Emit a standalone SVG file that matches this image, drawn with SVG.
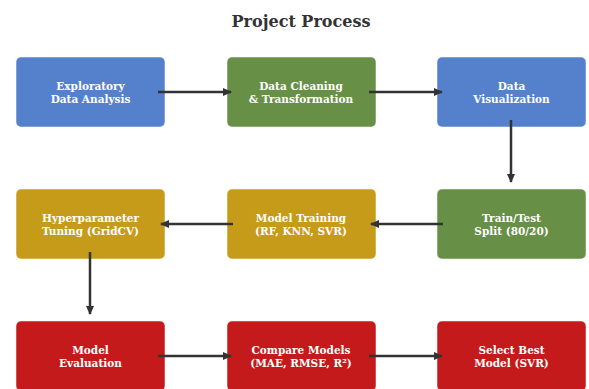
<svg xmlns="http://www.w3.org/2000/svg" width="589" height="389" viewBox="0 0 589 389">
<style>
.box{stroke:#ffffff;stroke-opacity:0.5;stroke-width:1}
.b{fill:#5580CB}.g{fill:#678F46}.y{fill:#C69B1A}.r{fill:#C41A1B}
.t{font-family:"DejaVu Serif",serif;font-weight:bold;font-size:10.5px;fill:#ffffff;text-anchor:middle}
.title{font-family:"DejaVu Serif",serif;font-weight:bold;font-size:16px;fill:#333333;text-anchor:middle}
.c{stroke:#333333;stroke-width:2.5;fill:none;marker-end:url(#ah)}
</style>
<defs>
<marker id="ah" markerWidth="10" markerHeight="10" refX="8" refY="5" orient="auto" markerUnits="userSpaceOnUse">
<path d="M0,1 L9,5 L0,9 Z" fill="#333333"/>
</marker>
</defs>
<rect width="589" height="389" fill="#ffffff"/>
<text class="title" x="301" y="27">Project Process</text>
<g id="n1"><rect class="box b" x="16" y="57" width="149" height="70" rx="5"/><text class="t" x="90.5" y="90">Exploratory</text><text class="t" x="90.5" y="103">Data Analysis</text></g>
<g id="n2"><rect class="box g" x="227" y="57" width="149" height="70" rx="5"/><text class="t" x="301" y="90">Data Cleaning</text><text class="t" x="301" y="103">&amp; Transformation</text></g>
<g id="n3"><rect class="box b" x="437" y="57" width="149" height="70" rx="5"/><text class="t" x="511.5" y="90">Data</text><text class="t" x="511.5" y="103">Visualization</text></g>
<g id="n4"><rect class="box g" x="437" y="189" width="149" height="70" rx="5"/><text class="t" x="511.5" y="222">Train/Test</text><text class="t" x="511.5" y="235">Split (80/20)</text></g>
<g id="n5"><rect class="box y" x="227" y="189" width="149" height="70" rx="5"/><text class="t" x="301" y="222">Model Training</text><text class="t" x="301" y="235">(RF, KNN, SVR)</text></g>
<g id="n6"><rect class="box y" x="16" y="189" width="149" height="70" rx="5"/><text class="t" x="90.5" y="222">Hyperparameter</text><text class="t" x="90.5" y="235">Tuning (GridCV)</text></g>
<g id="n7"><rect class="box r" x="16" y="321" width="149" height="70" rx="5"/><text class="t" x="90.5" y="354">Model</text><text class="t" x="90.5" y="367">Evaluation</text></g>
<g id="n8"><rect class="box r" x="227" y="321" width="149" height="70" rx="5"/><text class="t" x="301" y="354">Compare Models</text><text class="t" x="301" y="367">(MAE, RMSE, R²)</text></g>
<g id="n9"><rect class="box r" x="437" y="321" width="149" height="70" rx="5"/><text class="t" x="511.5" y="354">Select Best</text><text class="t" x="511.5" y="367">Model (SVR)</text></g>
<g id="connectors">
<line class="c" x1="158" y1="92" x2="231" y2="92"/>
<line class="c" x1="369" y1="92" x2="442" y2="92"/>
<line class="c" x1="511" y1="120" x2="511" y2="182"/>
<line class="c" x1="443" y1="224" x2="371" y2="224"/>
<line class="c" x1="233" y1="224" x2="161" y2="224"/>
<line class="c" x1="90" y1="252" x2="90" y2="314"/>
<line class="c" x1="158" y1="356" x2="231" y2="356"/>
<line class="c" x1="369" y1="356" x2="442" y2="356"/>
</g>
</svg>
